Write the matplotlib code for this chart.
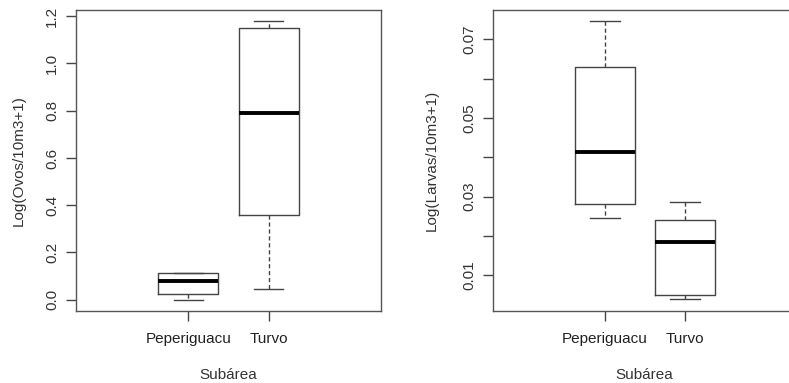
import matplotlib
matplotlib.use("Agg")
import matplotlib.pyplot as plt

plt.rcParams['font.family'] = ['Liberation Sans', 'DejaVu Sans']

categories = ["Peperiguacu", "Turvo"]

# Ovos: whislo, q1, median, q3, whishi
ovos_whislo = [0.000, 0.045]
ovos_q1 = [0.024, 0.357]
ovos_med = [0.080, 0.792]
ovos_q3 = [0.112, 1.150]
ovos_whishi = [0.112, 1.180]

# Larvas
larvas_whislo = [0.0245, 0.0039]
larvas_q1 = [0.0281, 0.0051]
larvas_med = [0.0413, 0.0185]
larvas_q3 = [0.0629, 0.0240]
larvas_whishi = [0.0746, 0.0286]

ovos_ticks = [0.0, 0.2, 0.4, 0.6, 0.8, 1.0, 1.2]
larvas_ticks = [0.01, 0.02, 0.03, 0.04, 0.05, 0.06, 0.07]
larvas_ticklabels = ["0.01", "", "0.03", "", "0.05", "", "0.07"]

EDGE = "#444444"
FS = 11


def make_stats(lo, q1, med, q3, hi):
    return [dict(whislo=lo[i], q1=q1[i], med=med[i], q3=q3[i], whishi=hi[i],
                 fliers=[], label=categories[i]) for i in range(len(categories))]


def draw(ax, stats, ylabel, ylim, ticks, ticklabels, ylabelpad):
    ax.bxp(stats, positions=[1, 2], widths=0.75, patch_artist=False,
           boxprops=dict(color=EDGE, linewidth=1.0),
           whiskerprops=dict(color=EDGE, linewidth=1.0, linestyle=(0, (3, 2))),
           capprops=dict(color=EDGE, linewidth=1.0),
           medianprops=dict(color="black", linewidth=2.8, solid_capstyle="butt"),
           capwidths=0.37)
    ax.set_xlim(-0.4, 3.4)
    ax.set_ylim(*ylim)
    ax.set_yticks(ticks)
    ax.set_yticklabels(ticklabels, rotation=90, va="center", fontsize=FS, color="#333333")
    ax.set_xticks([1, 2])
    ax.set_xticklabels(categories, fontsize=FS, color="#222222")
    ax.tick_params(axis="both", length=7, width=1, color=EDGE, pad=5)
    ax.tick_params(axis="x", pad=8)
    for s in ax.spines.values():
        s.set_color("#555555")
        s.set_linewidth(1.0)
    ax.set_ylabel(ylabel, fontsize=FS, color="#333333", labelpad=ylabelpad)
    ax.set_xlabel("Subárea", fontsize=FS, color="#333333", labelpad=16)


fig = plt.figure(figsize=(7.89, 3.83), dpi=100)
ax1 = fig.add_axes([0.0963, 0.188, 0.3866, 0.786])
ax2 = fig.add_axes([0.6245, 0.188, 0.3853, 0.786])

draw(ax1, make_stats(ovos_whislo, ovos_q1, ovos_med, ovos_q3, ovos_whishi),
     "Log(Ovos/10m3+1)", (-0.048, 1.2267), ovos_ticks,
     [f"{t:.1f}" for t in ovos_ticks], 14)
draw(ax2, make_stats(larvas_whislo, larvas_q1, larvas_med, larvas_q3, larvas_whishi),
     "Log(Larvas/10m3+1)", (0.00092, 0.07745), larvas_ticks, larvas_ticklabels, 17)

fig.savefig("out.png", dpi=100)
